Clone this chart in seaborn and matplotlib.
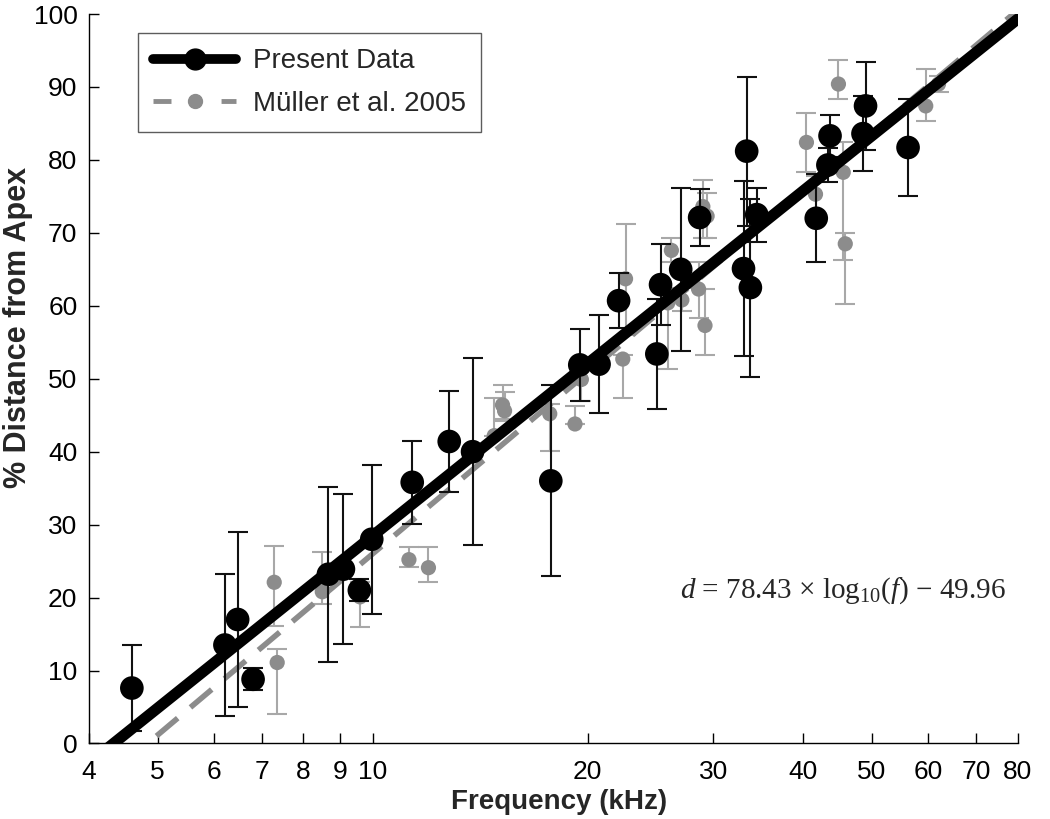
import numpy as np
import pandas as pd
import matplotlib
matplotlib.use("Agg")
import matplotlib.pyplot as plt
from matplotlib.lines import Line2D
import seaborn as sns

# Present data: frequency (kHz), % distance from apex, error
present_freq = [4.6, 6.21, 6.47, 6.8, 8.67, 9.1, 9.58, 9.97, 11.36, 12.8,
                13.8, 17.76, 19.5, 20.75, 22.1, 25.0, 25.3, 27.0, 28.7, 33.4,
                33.06, 33.8, 34.5, 41.8, 43.7, 43.4, 49.0, 48.6, 56.2]
present_dist = [7.6, 13.5, 17.0, 8.8, 23.2, 23.9, 21.0, 28.0, 35.8, 41.4,
                40.0, 36.0, 51.9, 52.0, 60.7, 53.4, 62.9, 65.0, 72.1, 81.2,
                65.1, 62.5, 72.5, 72.0, 83.3, 79.3, 87.4, 83.6, 81.7]
present_err = [5.9, 9.8, 12.0, 1.5, 12.0, 10.3, 1.5, 10.2, 5.7, 6.9,
               12.8, 13.1, 4.9, 6.7, 3.8, 7.6, 5.6, 11.2, 3.9, 10.2,
               12.0, 12.2, 3.7, 6.0, 2.9, 2.3, 6.0, 5.1, 6.6]

# Muller et al. 2005: frequency, distance, lower and upper bar ends
muller_freq = [7.28, 7.35, 8.5, 9.6, 11.24, 11.97, 14.8, 15.2, 15.3, 17.7,
               19.2, 19.6, 22.4, 22.6, 26.2, 25.9, 27.1, 28.6, 29.0, 29.4,
               29.2, 40.5, 41.7, 44.9, 45.6, 45.9, 59.5, 62.0]
muller_dist = [22.1, 11.1, 20.8, 20.1, 25.2, 24.1, 42.2, 46.4, 45.6, 45.2,
               43.8, 49.9, 52.7, 63.7, 67.6, 60.4, 60.8, 62.3, 73.6, 72.3,
               57.3, 82.4, 75.3, 90.4, 78.3, 68.5, 87.4, 90.4]
muller_lo = [16.1, 4.0, 19.1, 16.0, 24.2, 22.2, 42.2, 44.5, 44.2, 40.1,
             43.8, 47.0, 47.3, 56.0, 66.0, 51.3, 59.3, 58.3, 69.3, 69.3,
             53.3, 78.3, 72.5, 88.4, 66.3, 60.3, 85.4, 89.3]
muller_hi = [27.1, 13.0, 26.2, 22.2, 27.0, 27.0, 47.3, 49.2, 48.2, 46.5,
             46.3, 51.5, 53.2, 71.2, 69.3, 62.5, 62.5, 66.0, 77.2, 75.5,
             62.3, 86.4, 77.8, 93.7, 82.4, 70.0, 92.4, 91.5]

# fit lines: d = slope * log10(f) + intercept
present_fit = (78.43, -49.96)
muller_fit = (82.5, -56.5)

x_ticks = [4, 5, 6, 7, 8, 9, 10, 20, 30, 40, 50, 60, 70, 80]
y_ticks = list(range(0, 101, 10))

sns.set_style("ticks")
plt.rcParams['font.family'] = ['Liberation Sans', 'DejaVu Sans']
plt.rcParams['mathtext.fontset'] = 'custom'
plt.rcParams['mathtext.rm'] = 'Liberation Serif'
plt.rcParams['mathtext.it'] = 'Liberation Serif:italic'

present = pd.DataFrame({"freq": present_freq, "dist": present_dist})
muller = pd.DataFrame({"freq": muller_freq, "dist": muller_dist})

f_line = np.logspace(np.log10(4), np.log10(80), 200)
fits = pd.DataFrame({
    "freq": f_line,
    "present": present_fit[0] * np.log10(f_line) + present_fit[1],
    "muller": muller_fit[0] * np.log10(f_line) + muller_fit[1],
})

fig = plt.figure(figsize=(10.5, 8.19), dpi=100)
ax = fig.add_axes([0.0843, 0.0922, 0.8848, 0.8907])

gray = "#8c8c8c"
gray_bar = "#a8a8a8"

m_err = [np.array(muller_dist) - np.array(muller_lo),
         np.array(muller_hi) - np.array(muller_dist)]
ax.errorbar(muller_freq, muller_dist, yerr=m_err, fmt="none",
            ecolor=gray_bar, elinewidth=1.5, capsize=7, capthick=1.5, zorder=1)
sns.scatterplot(data=muller, x="freq", y="dist", ax=ax, color=gray,
                s=120, edgecolor="none", zorder=2, legend=False)
sns.lineplot(data=fits, x="freq", y="muller", ax=ax, color=gray,
             lw=4, dashes=False, zorder=3)
ax.lines[-1].set_dashes([5, 3])

ax.errorbar(present_freq, present_dist, yerr=present_err, fmt="none",
            ecolor="#111111", elinewidth=1.5, capsize=7, capthick=1.5, zorder=4)
sns.lineplot(data=fits, x="freq", y="present", ax=ax, color="black",
             lw=8, zorder=5)
sns.scatterplot(data=present, x="freq", y="dist", ax=ax, color="black",
                s=290, edgecolor="none", zorder=6, legend=False)

ax.set_xscale("log")
ax.set_xlim(4, 80)
ax.set_ylim(0, 100)
ax.set_xticks(x_ticks)
ax.set_xticklabels([str(t) for t in x_ticks])
ax.xaxis.set_minor_locator(matplotlib.ticker.NullLocator())
ax.set_yticks(y_ticks)
ax.tick_params(direction="in", length=7, width=1, labelsize=19, colors="black")
ax.tick_params(axis="y", pad=8)
ax.tick_params(axis="x", pad=12)
for s in ["top", "right"]:
    ax.spines[s].set_visible(False)
for s in ["left", "bottom"]:
    ax.spines[s].set_linewidth(1)
    ax.spines[s].set_color("black")

label_font = dict(fontweight="bold",
                  family=["Liberation Sans Narrow", "Liberation Sans"])
ax.set_xlabel("Frequency (kHz)", fontsize=20, **label_font)
ax.set_ylabel("% Distance from Apex", fontsize=22, **label_font)
ax.xaxis.set_label_coords(0.506, -0.062)
ax.yaxis.set_label_coords(-0.076, 0.571)
ax.yaxis.label.set_va("center")

ax.text(0.812, 0.21, r"$d$ = 78.43 × log$_{10}$($f$) − 49.96",
        transform=ax.transAxes, ha="center", va="center", fontsize=21,
        family="Liberation Serif")

handles = [
    Line2D([0], [0], color="black", lw=7, marker="o", markersize=15),
    Line2D([0], [0], color=gray, lw=3.5, ls=(0, (3.7, 10.3)), marker="o",
           markersize=10),
]
leg = ax.legend(handles, ["Present Data", "Müller et al. 2005"],
                loc="upper left", bbox_to_anchor=(0.053, 0.974),
                borderaxespad=0, fontsize=20, handlelength=3.0,
                frameon=True, fancybox=False, edgecolor="#333333",
                borderpad=0.55, labelspacing=0.6, handletextpad=0.6)
leg.get_frame().set_linewidth(1)

fig.savefig("out.png", dpi=100)
